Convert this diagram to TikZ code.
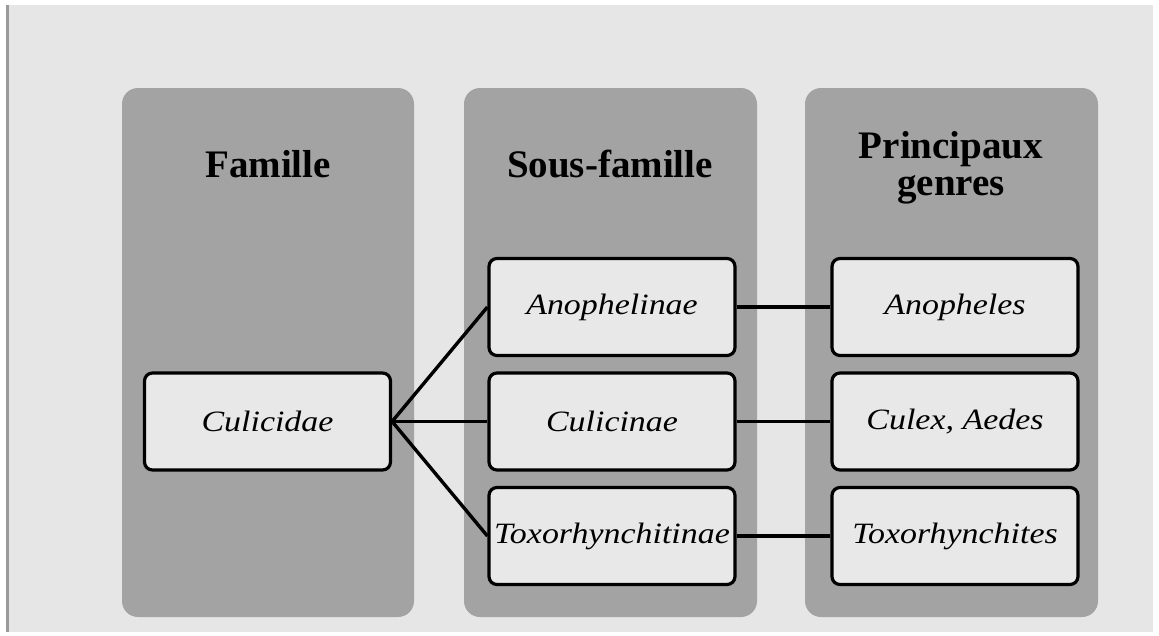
\documentclass[tikz,border=0pt]{standalone}
\usepackage{fontspec}
\setmainfont{Liberation Serif}
\newfontfamily\taxonfont{Liberation Serif}[FakeStretch=1.15]
\definecolor{bg}{HTML}{E6E6E6}
\definecolor{panel}{HTML}{A3A3A3}
\definecolor{boxfill}{HTML}{E8E8E8}
\definecolor{edge}{HTML}{9A9A9A}
\tikzset{
  panelbox/.style={fill=panel, rounded corners=16pt, draw=none},
  header/.style={font=\fontsize{39}{37}\selectfont\bfseries, align=center, inner sep=0pt},
  taxon/.style={draw=black, line width=3.2pt, fill=boxfill, rounded corners=8pt,
     minimum width=246pt, minimum height=97pt, inner sep=0pt,
     font=\taxonfont\fontsize{29.5}{30}\selectfont\itshape},
  link/.style={draw=black, line width=3.4pt}
}
\begin{document}
\begin{tikzpicture}[x=1pt,y=-1pt]
\useasboundingbox (0,0) rectangle (1159,635);
\fill[white] (0,0) rectangle (1159,635);
\fill[bg] (9,5) rectangle (1153,632);
\fill[edge] (6,5) rectangle (8.5,632);
% panels
\path[panelbox] (122,88) rectangle (414,617);
\path[panelbox] (464,88) rectangle (757,617);
\path[panelbox] (805,88) rectangle (1098,617);
% headers
\node[header] (h1) at (268,164) {Famille};
\node[header] (h2) at (610,164) {Sous-famille};
\node[header] (h3) at (951,168) {Principaux\\genres};
% boxes
\node[taxon] (cul) at (267.5,421.5) {Culicidae};
\node[taxon] (ano) at (612,307) {Anophelinae};
\node[taxon] (culi) at (612,421.5) {Culicinae};
\node[taxon] (tox) at (612,536) {Toxorhynchitinae};
\node[taxon] (anoG) at (955,307) {Anopheles};
\node[taxon] (culG) at (955,421.5) {Culex, Aedes};
\node[taxon] (toxG) at (955,536) {Toxorhynchites};
% links
\draw[link] (cul.east) -- (ano.west);
\draw[link] (cul.east) -- (culi.west);
\draw[link] (cul.east) -- (tox.west);
\draw[link] (ano.east) -- (anoG.west);
\draw[link] (culi.east) -- (culG.west);
\draw[link] (tox.east) -- (toxG.west);
\end{tikzpicture}
\end{document}
